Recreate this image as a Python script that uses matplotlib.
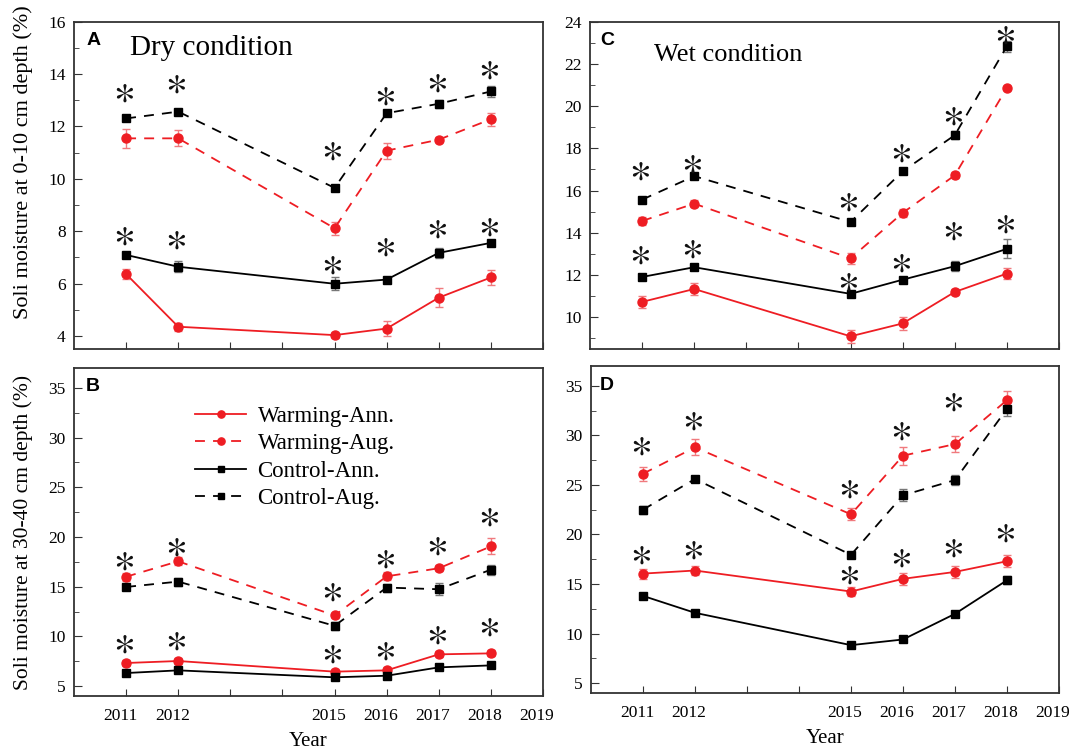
import numpy as np
import matplotlib
matplotlib.use("Agg")
import matplotlib.pyplot as plt
from matplotlib.ticker import MultipleLocator, FixedLocator
import matplotlib.transforms as mtransforms

plt.rcParams['font.family'] = ['Liberation Serif', 'DejaVu Serif']
plt.rcParams['mathtext.fontset'] = 'stix'

years = [2011, 2012, 2015, 2016, 2017, 2018]
tick_years = [2011, 2012, 2013, 2014, 2015, 2016, 2017, 2018, 2019]
tick_labels = ['2011', '2012', '', '', '2015', '2016', '2017', '2018', '2019']
series_names = ['Warming-Ann.', 'Warming-Aug.', 'Control-Ann.', 'Control-Aug.']

# panel A: dry condition, 0-10 cm
A_warm_ann = [6.36, 4.35, 4.03, 4.28, 5.46, 6.23]
A_warm_aug = [11.54, 11.54, 8.11, 11.07, 11.49, 12.27]
A_ctrl_ann = [7.09, 6.64, 5.99, 6.15, 7.17, 7.55]
A_ctrl_aug = [12.30, 12.56, 9.65, 12.50, 12.86, 13.33]
A_err = [[0.2, 0.15, 0.1, 0.3, 0.35, 0.3],
         [0.35, 0.3, 0.25, 0.3, 0.1, 0.25],
         [0.1, 0.2, 0.25, 0.1, 0.2, 0.1],
         [0.1, 0.1, 0.1, 0.1, 0.15, 0.2]]
A_star_x = [2011, 2012, 2015, 2016, 2017, 2018, 2011, 2012, 2015, 2016, 2017, 2018]
A_star_y = [13.3, 13.64, 11.09, 13.18, 13.67, 14.17, 7.85, 7.69, 6.74, 7.43, 8.11, 8.17]

# panel B: dry condition, 30-40 cm
B_warm_ann = [7.32, 7.52, 6.45, 6.58, 8.19, 8.29]
B_warm_aug = [16.0, 17.55, 12.1, 16.04, 16.85, 19.05]
B_ctrl_ann = [6.31, 6.58, 5.88, 6.04, 6.88, 7.08]
B_ctrl_aug = [14.97, 15.51, 11.06, 14.91, 14.74, 16.71]
B_err = [[0.3, 0.3, 0.3, 0.3, 0.3, 0.3],
         [0.4, 0.4, 0.3, 0.4, 0.3, 0.8],
         [0.3, 0.3, 0.3, 0.3, 0.3, 0.3],
         [0.3, 0.4, 0.4, 0.4, 0.6, 0.5]]
B_star_x = [2011, 2012, 2015, 2016, 2017, 2018, 2011, 2012, 2015, 2016, 2017, 2018]
B_star_y = [17.65, 19.05, 14.57, 17.88, 19.2, 22.06, 9.29, 9.62, 8.29, 8.62, 10.19, 11.03]

# panel C: wet condition, 0-10 cm
C_warm_ann = [10.73, 11.34, 9.1, 9.71, 11.2, 12.07]
C_warm_aug = [14.56, 15.38, 12.79, 14.94, 16.72, 20.86]
C_ctrl_ann = [11.91, 12.37, 11.11, 11.78, 12.42, 13.24]
C_ctrl_aug = [15.57, 16.68, 14.51, 16.91, 18.62, 22.83]
C_err = [[0.3, 0.3, 0.3, 0.3, 0.15, 0.25],
         [0.2, 0.15, 0.25, 0.2, 0.15, 0.1],
         [0.1, 0.15, 0.1, 0.1, 0.25, 0.45],
         [0.1, 0.1, 0.1, 0.1, 0.2, 0.25]]
C_star_x = [2011, 2012, 2015, 2016, 2017, 2018, 2011, 2012, 2015, 2016, 2017, 2018]
C_star_y = [16.95, 17.29, 15.48, 17.81, 19.55, 23.37, 13.0, 13.24, 11.7, 12.6, 14.1, 14.45]

# panel D: wet condition, 30-40 cm
D_warm_ann = [16.05, 16.36, 14.24, 15.52, 16.22, 17.3]
D_warm_aug = [26.13, 28.79, 22.03, 27.95, 29.12, 33.56]
D_ctrl_ann = [13.8, 12.09, 8.83, 9.4, 11.99, 15.38]
D_ctrl_aug = [22.5, 25.6, 17.94, 23.95, 25.49, 32.68]
D_err = [[0.5, 0.5, 0.5, 0.6, 0.6, 0.6],
         [0.7, 0.8, 0.6, 0.9, 0.8, 0.9],
         [0.3, 0.3, 0.3, 0.3, 0.3, 0.4],
         [0.4, 0.3, 0.3, 0.6, 0.5, 0.7]]
D_star_x = [2011, 2012, 2015, 2016, 2017, 2011, 2012, 2015, 2016, 2017, 2018]
D_star_y = [28.95, 31.47, 24.65, 30.53, 33.39, 18.04, 18.54, 16.02, 17.7, 18.7, 20.22]

red = '#ee1d23'
styles = [dict(color=red, ls='-', marker='o', ms=6.5, ecol='#f07a7e'),
          dict(color=red, ls=(0, (5.5, 4.5)), marker='o', ms=6.5, ecol='#f07a7e'),
          dict(color='black', ls='-', marker='s', ms=5.5, ecol='#777777'),
          dict(color='black', ls=(0, (5.5, 4.5)), marker='s', ms=5.5, ecol='#777777')]

W, H = 1081, 754
fig = plt.figure(figsize=(W / 100, H / 100), dpi=100)


def make_ax(l, r, t, b):
    return fig.add_axes([l / W, 1 - b / H, (r - l) / W, (b - t) / H])


axA = make_ax(74, 543, 21.5, 349)
axB = make_ax(74, 543, 368, 696)
axC = make_ax(590, 1059, 21.5, 349)
axD = make_ax(591, 1059, 366, 693)


def draw_panel(ax, series, errs, star_x, star_y, ylim, major, minor):
    for i, vals in enumerate(series):
        st = styles[i]
        ax.errorbar(years, vals, yerr=errs[i], fmt='none', ecolor=st['ecol'],
                    elinewidth=1.0, capsize=3, capthick=1.0, zorder=2)
        ax.plot(years, vals, color=st['color'], ls=st['ls'], lw=1.3,
                marker=st['marker'], ms=st['ms'], label=series_names[i], zorder=3)
    # significance marks
    for x, y in zip(star_x, star_y):
        ax.text(x - 0.05, y, r'$\ast$', ha='center', va='center',
                fontsize=30, color='#111111')
    ax.set_xlim(2010, 2019)
    ax.set_ylim(*ylim)
    ax.xaxis.set_major_locator(FixedLocator(tick_years))
    ax.set_xticklabels(tick_labels)
    ax.yaxis.set_major_locator(MultipleLocator(major))
    ax.yaxis.set_minor_locator(MultipleLocator(minor))
    ax.tick_params(axis='both', which='both', direction='in', colors='#333333')
    ax.tick_params(axis='x', which='major', length=5, pad=8.5, labelsize=12.5, labelcolor='black')
    ax.tick_params(axis='y', which='major', length=6, pad=6, labelsize=12.5, labelcolor='black')
    ax.tick_params(axis='y', which='minor', length=3.5)
    off = mtransforms.ScaledTranslation(-6 / 100, 0, fig.dpi_scale_trans)
    for lab in ax.get_xticklabels():
        lab.set_transform(lab.get_transform() + off)
    for sp in ax.spines.values():
        sp.set_color('#333333')
        sp.set_linewidth(1.3)


draw_panel(axA, [A_warm_ann, A_warm_aug, A_ctrl_ann, A_ctrl_aug], A_err, A_star_x, A_star_y,
           (3.5, 16), 2, 1)
draw_panel(axB, [B_warm_ann, B_warm_aug, B_ctrl_ann, B_ctrl_aug], B_err, B_star_x, B_star_y,
           (4, 37), 5, 2.5)
draw_panel(axC, [C_warm_ann, C_warm_aug, C_ctrl_ann, C_ctrl_aug], C_err, C_star_x, C_star_y,
           (8.5, 24), 2, 1)
draw_panel(axD, [D_warm_ann, D_warm_aug, D_ctrl_ann, D_ctrl_aug], D_err, D_star_x, D_star_y,
           (4, 37), 5, 2.5)

axA.set_xticklabels([])
axC.set_xticklabels([])

axA.set_ylabel('Soli moisture at 0-10 cm depth (%)', fontsize=16)
axA.yaxis.set_label_coords(-0.087, 0.571)
axB.set_ylabel('Soli moisture at 30-40 cm depth (%)', fontsize=15.5)
axB.yaxis.set_label_coords(-0.087, 0.5)
for ax in (axB, axD):
    ax.set_xlabel('Year', fontsize=15)
    ax.xaxis.set_label_coords(0.5, -0.11)

for ax, letter, x, y in [(axA, 'A', 0.026, 0.968), (axB, 'B', 0.026, 0.97),
                         (axC, 'C', 0.021, 0.968), (axD, 'D', 0.019, 0.966)]:
    ax.text(x, y, letter, transform=ax.transAxes, ha='left', va='top',
            fontsize=14, fontweight='bold', family=['Liberation Sans', 'DejaVu Sans'])

axA.text(0.119, 0.898, 'Dry condition', transform=axA.transAxes, fontsize=21, va='baseline')
axC.text(0.136, 0.879, 'Wet condition', transform=axC.transAxes, fontsize=19, va='baseline')

axB.legend(loc='upper left', bbox_to_anchor=(0.214, 0.948), frameon=False, fontsize=16.5,
           handlelength=2.23, handletextpad=0.5, labelspacing=0.28, numpoints=1,
           markerscale=0.8)

fig.savefig('out.png', dpi=100)
